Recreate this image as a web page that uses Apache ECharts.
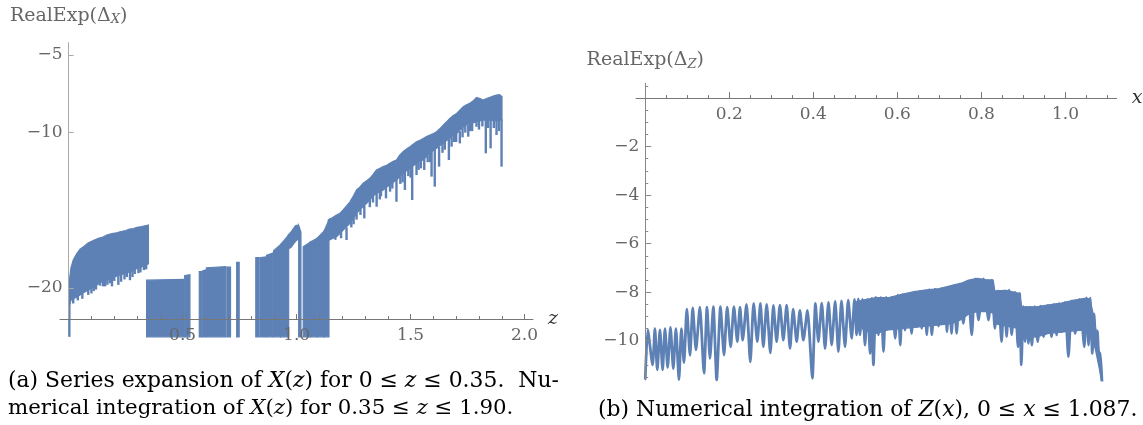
<!DOCTYPE html>
<html><head><meta charset="utf-8">
<script src="https://cdn.jsdelivr.net/npm/echarts@6/dist/echarts.min.js"></script>
<style>html,body{margin:0;padding:0;background:#fff}#c{width:1143px;height:425px}</style>
</head><body><div id="c"></div>
<script>
// ================= Panel (a): RealExp(Δ_X) against z =================
const aXTicks = [0.5, 1.0, 1.5, 2.0];
const aXMinor = [0.1,0.2,0.3,0.4,0.6,0.7,0.8,0.9,1.1,1.2,1.3,1.4,1.6,1.7,1.8,1.9];
const aYTicks = [-20, -10, -5];

// series expansion, 0 <= z <= 0.35 (band: upper and lower edge)
const aSerZ   = [0.004, 0.01, 0.02, 0.035, 0.05, 0.065, 0.085, 0.108, 0.13, 0.15, 0.167, 0.19, 0.21, 0.225, 0.25, 0.27, 0.284, 0.30, 0.32, 0.34, 0.35];
const aSerTop = [-19.4, -18.7, -18.2, -17.8, -17.5, -17.35, -17.1, -16.95, -16.8, -16.72, -16.6, -16.5, -16.45, -16.38, -16.3, -16.2, -16.18, -16.1, -16.05, -15.98, -15.95];
const aSerBot = [-21.1, -20.8, -20.7, -20.6, -20.45, -20.3, -20.15, -19.95, -19.75, -19.55, -19.5, -19.35, -19.25, -19.17, -19.05, -18.95, -18.85, -18.75, -18.65, -18.5, -18.45];

// numerical integration: stretches that oscillate below the plot range  [zStart, zEnd, topStart, topEnd]
const aBlocks = [
  [0.342, 0.506, -19.5, -19.45], [0.509, 0.532, -19.2, -19.15],
  [0.573, 0.584, -18.95, -18.95], [0.588, 0.600, -18.9, -18.85],
  [0.604, 0.689, -18.7, -18.63], [0.694, 0.710, -18.65, -18.65],
  [0.737, 0.748, -18.35, -18.35],
  [0.821, 0.836, -18.05, -18.05], [0.842, 0.864, -18.05, -18.0],
  [0.868, 0.895, -17.9, -17.75], [0.899, 0.930, -17.6, -17.2], [0.930, 0.965, -17.2, -16.6],
  [1.009, 1.019, -16.0, -16.4],
  [1.029, 1.060, -17.35, -17.05], [1.060, 1.090, -17.05, -16.8],
  [1.090, 1.120, -16.8, -16.35], [1.120, 1.142, -16.35, -15.62]
];
// floating hump near z = 1
const aHumpZ   = [0.962, 0.975, 0.985, 0.995, 1.003, 1.009, 1.013];
const aHumpTop = [-16.62, -16.4, -16.2, -16.0, -15.95, -16.0, -16.3];
const aHumpBot = [-17.5, -17.4, -17.2, -17.0, -16.9, -16.85, -16.8];
// rising band 1.14 <= z <= 1.90
const aRiseZ   = [1.139, 1.16, 1.175, 1.19, 1.204, 1.22, 1.234, 1.25, 1.263, 1.278, 1.292, 1.307, 1.321, 1.335, 1.35, 1.365, 1.38, 1.395, 1.409, 1.424, 1.438, 1.452, 1.467, 1.482, 1.497, 1.511, 1.526, 1.54, 1.555, 1.57, 1.585, 1.6, 1.614, 1.628, 1.643, 1.658, 1.672, 1.687, 1.702, 1.716, 1.731, 1.745, 1.76, 1.775, 1.789, 1.804, 1.819, 1.833, 1.848, 1.862, 1.877, 1.89, 1.901];
const aRiseTop = [-15.62, -15.45, -15.3, -15.2, -14.98, -14.7, -14.45, -14.05, -13.69, -13.5, -13.26, -13.1, -12.94, -12.7, -12.4, -12.3, -12.19, -12.1, -11.97, -11.85, -11.76, -11.45, -11.22, -11.05, -10.9, -10.75, -10.58, -10.5, -10.37, -10.25, -10.15, -10.05, -9.94, -9.75, -9.51, -9.3, -9.08, -8.9, -8.76, -8.55, -8.33, -8.2, -8.11, -7.95, -7.73, -7.8, -7.9, -7.8, -7.73, -7.65, -7.58, -7.55, -7.68];
const aRiseBot = [-16.95, -16.8, -16.7, -16.5, -16.27, -16.05, -15.84, -15.5, -15.2, -14.95, -14.77, -14.55, -14.34, -14.1, -13.9, -13.8, -13.69, -13.5, -13.37, -13.2, -13.05, -12.85, -12.62, -12.45, -12.3, -12.15, -11.97, -11.85, -11.76, -11.55, -11.33, -11.15, -11.0, -10.85, -10.69, -10.5, -10.37, -10.2, -10.05, -9.85, -9.62, -9.5, -9.4, -9.35, -9.3, -9.25, -9.19, -9.2, -9.2, -9.22, -9.25, -9.2, -9.2];
// downward spikes [z, from, to]
const aSpikes = [
  [0.003, -19.5, -23.15], [0.02, -20.6, -21.0], [0.04, -20.4, -20.8], [0.06, -20.3, -20.7], [0.086, -20.0, -20.45],
  [0.1, -19.9, -20.35], [0.11, -19.8, -20.2], [0.12, -19.7, -20.1], [0.137, -19.6, -19.85], [0.15, -19.5, -19.9],
  [0.16, -19.4, -19.9], [0.17, -19.45, -19.8], [0.181, -19.35, -19.7], [0.19, -19.3, -19.9], [0.2, -19.2, -19.55],
  [0.218, -19.1, -19.8], [0.23, -19.15, -19.6], [0.245, -19.0, -19.45], [0.255, -19.0, -19.3], [0.269, -18.9, -19.5],
  [0.28, -18.85, -19.3], [0.29, -18.8, -19.1], [0.306, -18.7, -19.05], [0.315, -18.65, -19.0], [0.33, -18.55, -18.85], [0.34, -18.5, -18.8],
  [1.17, -16.4, -16.9], [1.195, -16.3, -16.8], [1.219, -16.1, -16.91], [1.24, -15.6, -16.1], [1.25, -15.3, -15.9], [1.263, -15.1, -15.6],
  [1.28, -14.9, -15.3], [1.297, -14.7, -15.52], [1.321, -14.3, -14.8], [1.335, -14.0, -14.5], [1.351, -13.8, -14.77],
  [1.365, -13.7, -14.3], [1.37, -13.7, -14.1], [1.392, -13.5, -14.23], [1.41, -13.3, -13.8], [1.42, -13.2, -13.6],
  [1.438, -13.0, -14.45], [1.455, -12.8, -13.3], [1.465, -12.6, -13.2], [1.475, -12.5, -13.69],
  [1.49, -12.3, -12.8], [1.5, -12.2, -12.9], [1.507, -12.2, -14.34], [1.526, -11.9, -12.73], [1.535, -11.9, -12.4],
  [1.545, -11.8, -12.3], [1.56, -11.7, -12.4], [1.575, -11.5, -11.9], [1.585, -11.3, -11.9], [1.592, -11.2, -12.83],
  [1.606, -11.0, -13.48], [1.625, -10.9, -12.19], [1.64, -10.6, -11.3], [1.65, -10.6, -11.1], [1.668, -10.4, -11.76],
  [1.68, -10.3, -10.9], [1.69, -10.1, -10.6], [1.70, -10.0, -10.6], [1.716, -9.9, -10.69], [1.728, -9.6, -10.3],
  [1.74, -9.55, -10.0], [1.753, -9.5, -10.26], [1.76, -9.4, -9.9], [1.77, -9.3, -9.9], [1.789, -9.25, -9.62],
  [1.80, -9.2, -9.8], [1.815, -9.2, -9.6], [1.830, -9.15, -11.33], [1.84, -9.15, -9.7], [1.851, -9.15, -11.01],
  [1.865, -9.2, -9.7], [1.877, -9.2, -10.15], [1.888, -9.2, -9.9], [1.899, -9.15, -12.19]
];
const aFloor = -23.15;   // bottom of the plotted range

// ================= Panel (b): RealExp(Δ_Z) against x =================
const bXTicks = [0.2, 0.4, 0.6, 0.8, 1.0];
const bXMinor = [0.05,0.1,0.15,0.25,0.3,0.35,0.45,0.5,0.55,0.65,0.7,0.75,0.85,0.9,0.95,1.05,1.1];
const bYTicks = [-10, -8, -6, -4, -2];
const bYMinor = [-11.5,-11,-10.5,-9.5,-9,-8.5,-7.5,-7,-6.5,-5.5,-5,-4.5,-3.5,-3,-2.5,-1.5,-1,-0.5,0.5];

// oscillating curve: arch tops and cusps
const bCurve = [
  [0.0,-11.6],[0.006,-9.55],[0.0175,-11.0],[0.023,-9.5],[0.0286,-11.2],[0.035,-9.55],[0.0413,-11.2],[0.047,-9.5],
  [0.0533,-11.1],[0.06,-9.45],[0.0667,-11.15],[0.073,-9.5],[0.0802,-11.6],[0.086,-9.5],[0.0921,-10.9],
  [0.099,-8.7],[0.1065,-10.6],[0.113,-8.65],[0.1207,-10.38],[0.13,-8.62],[0.1398,-11.34],[0.147,-8.62],[0.154,-10.73],
  [0.162,-8.6],[0.170,-11.62],[0.179,-8.6],[0.1874,-10.59],[0.195,-8.62],[0.2033,-10.25],[0.211,-8.6],[0.2191,-10.04],
  [0.2255,-8.62],[0.2319,-9.98],[0.241,-8.5],[0.25,-10.87],[0.258,-8.46],[0.2667,-10.04],[0.274,-8.46],[0.281,-10.25],
  [0.289,-8.5],[0.2977,-10.5],[0.305,-8.55],[0.3127,-10.04],[0.3205,-8.53],[0.3286,-9.98],[0.3365,-8.53],[0.3445,-10.32],
  [0.352,-8.7],[0.3604,-10.04],[0.368,-8.75],[0.3763,-9.98],[0.386,-8.75],[0.3977,-11.55],[0.405,-8.46],[0.412,-10.04],
  [0.42,-8.45],[0.4279,-10.32],[0.436,-8.42],[0.4437,-10.18],[0.452,-8.38],[0.4596,-10.45],[0.467,-8.36],[0.4754,-10.25],
  [0.483,-8.33],[0.4913,-9.9],[0.498,-8.3],
  [0.503,-9.76],[0.507,-8.28],[0.511,-9.76],[0.517,-8.3],[0.523,-10.18],[0.529,-8.3],[0.535,-10.52],[0.539,-8.26],
  [0.543,-11.0],[0.549,-8.22],[0.555,-9.76],[0.561,-8.22],[0.567,-10.45],[0.573,-8.22],[0.579,-9.49],[0.587,-8.2],
  [0.595,-9.9],[0.601,-8.12],[0.607,-10.18],[0.612,-8.1],[0.618,-9.56],[0.626,-8.07],[0.634,-9.70],[0.640,-8.0],
  [0.646,-9.42],[0.652,-7.98],[0.658,-9.49],[0.664,-7.95],[0.670,-9.76],[0.676,-7.9],[0.682,-9.76],[0.690,-7.88],
  [0.698,-9.4],[0.704,-7.85],[0.710,-9.29],[0.714,-7.83],[0.718,-9.63],[0.723,-7.8],[0.729,-9.70],[0.735,-7.72],
  [0.741,-9.70],[0.749,-7.66],[0.757,-9.29],[0.767,-7.55],[0.777,-9.76],[0.785,-7.45],[0.793,-9.15],[0.805,-7.45],
  [0.817,-9.15],[0.825,-7.5],[0.832,-9.49],[0.840,-7.95],[0.848,-10.04],[0.854,-7.95],[0.860,-9.83],[0.866,-7.92],
  [0.872,-9.76],[0.880,-8.0],[0.887,-10.25],[0.891,-8.05],[0.895,-11.0],[0.90,-8.6],[0.904,-10.04],[0.908,-8.62],
  [0.912,-10.11],[0.916,-8.62],[0.920,-10.18],[0.927,-8.6],[0.934,-10.04],[0.941,-8.58],[0.948,-9.83],[0.958,-8.54],
  [0.967,-9.83],[0.973,-8.5],[0.979,-9.76],[0.985,-8.47],[0.991,-9.63],[0.999,-8.42],[1.007,-10.66],[1.015,-8.36],
  [1.023,-9.70],[1.034,-8.3],[1.045,-10.25],[1.05,-8.24],[1.055,-10.18],[1.059,-8.25],[1.064,-10.52],[1.068,-8.9],
  [1.073,-10.3],[1.076,-9.6],[1.080,-10.9],[1.083,-10.5],[1.087,-11.7]
];
// dense part: solid band (upper and lower edge)
const bBandX   = [0.502,0.52,0.55,0.58,0.61,0.64,0.67,0.70,0.73,0.75,0.77,0.79,0.81,0.828,0.832,0.86,0.891,0.896,0.93,0.96,0.99,1.02,1.05,1.058,1.065,1.073,1.08,1.086];
const bBandTop = [-8.4,-8.32,-8.22,-8.22,-8.09,-7.98,-7.9,-7.85,-7.72,-7.64,-7.5,-7.43,-7.48,-7.5,-7.95,-7.92,-8.05,-8.6,-8.6,-8.52,-8.45,-8.33,-8.24,-8.28,-8.8,-9.6,-10.4,-11.4];
const bBandBot = [-9.0,-9.6,-9.7,-9.55,-9.5,-9.45,-9.4,-9.35,-9.3,-9.15,-8.9,-8.8,-8.8,-8.85,-9.3,-9.4,-9.5,-9.8,-9.85,-9.7,-9.65,-9.6,-9.55,-9.6,-9.9,-10.5,-11.1,-11.7];

// ================= drawing =================
const BLUE = '#5E81B5';
const FONT = 'DejaVu Serif';
const GREY = '#666666';

function bandPoly(xs, tops, bots) {
  const pts = xs.map((x, i) => [x, tops[i]]);
  for (let i = xs.length - 1; i >= 0; i--) pts.push([xs[i], bots[i]]);
  return pts;
}
const aPolys = [bandPoly(aSerZ, aSerTop, aSerBot)]
  .concat(aBlocks.map(b => [[b[0], b[2]], [b[1], b[3]], [b[1], aFloor], [b[0], aFloor]]))
  .concat([bandPoly(aHumpZ, aHumpTop, aHumpBot), bandPoly(aRiseZ, aRiseTop, aRiseBot)]);
const bPolys = [bandPoly(bBandX, bBandTop, bBandBot)];

function polySeries(polys, xi, yi, clip) {
  return {
    type: 'custom', xAxisIndex: xi, yAxisIndex: yi, clip: clip, silent: true, z: 2,
    data: polys.map((p, i) => [p[0][0], p[0][1], i]),
    encode: { x: 0, y: 1 },
    renderItem: function (params, api) {
      const poly = polys[api.value(2)];
      return { type: 'polygon', shape: { points: poly.map(p => api.coord(p)) },
               style: { fill: BLUE, stroke: BLUE, lineWidth: 1.2 } };
    }
  };
}
function spikeSeries(spikes, xi, yi) {
  return {
    type: 'custom', xAxisIndex: xi, yAxisIndex: yi, clip: false, silent: true, z: 2,
    data: spikes, encode: { x: 0, y: [1, 2] },
    renderItem: function (params, api) {
      const p1 = api.coord([api.value(0), api.value(1)]);
      const p2 = api.coord([api.value(0), api.value(2)]);
      return { type: 'line', shape: { x1: p1[0], y1: p1[1], x2: p2[0], y2: p2[1] },
               style: { stroke: BLUE, lineWidth: 2.4, lineCap: 'butt' } };
    }
  };
}
const minus = v => (v < 0 ? '\u2212' + Math.abs(v) : String(v));
const labelStyle = { color: GREY, fontFamily: FONT, fontSize: 17 };

// layout of the two plot frames (pixels) and their ranges
const W = 1143, H = 425;
const gridA = { left: 60, right: 610, top: 42.6, bottom: 106 };
const gridB = { left: 636, right: 26.3, top: 83.3, bottom: 45 };
const aXR = [-0.038, 2.037], aYR = [-22, -4.2];
const bXR = [-0.022, 1.122], bYR = [-11.62, 0.61];
// pixel shift that puts an axis through the origin of the other one
function zeroShift(range, size) { return (0 - range[0]) / (range[1] - range[0]) * size; }
const aYOffset = -zeroShift(aXR, W - gridA.left - gridA.right);
const bYOffset = -zeroShift(bXR, W - gridB.left - gridB.right);
const bXOffset = -(H - gridB.top - gridB.bottom - zeroShift(bYR, H - gridB.top - gridB.bottom));

function xAxisCfg(grid, range, ticks, len, labels, name, pos, offset) {
  return {
    type: 'value', gridIndex: grid, min: range[0], max: range[1], position: pos, offset: offset, z: 10,
    axisLine: { show: !!labels, onZero: false, lineStyle: { color: '#777', width: 1 } },
    axisTick: { show: true, inside: pos === 'bottom', length: len, customValues: ticks, lineStyle: { color: '#777', width: 1 } },
    axisLabel: labels ? Object.assign({ show: true, inside: pos === 'top', customValues: ticks, margin: 8,
                 formatter: v => Number(v).toFixed(1) }, labelStyle) : { show: false },
    splitLine: { show: false },
    name: name || '', nameLocation: 'end', nameGap: 15, nameMoveOverlap: false,
    nameTextStyle: { fontFamily: FONT, fontStyle: 'italic', fontSize: 19, color: '#333', verticalAlign: 'middle' }
  };
}
function yAxisCfg(grid, range, ticks, len, labels, name, offset, lineColor, gap) {
  return {
    type: 'value', gridIndex: grid, min: range[0], max: range[1], position: 'left', offset: offset, z: 10,
    axisLine: { show: !!labels, onZero: false, lineStyle: { color: lineColor, width: 1 } },
    axisTick: { show: true, inside: true, length: len, customValues: ticks, lineStyle: { color: lineColor, width: 1 } },
    axisLabel: labels ? Object.assign({ show: true, customValues: ticks, margin: 6, formatter: minus }, labelStyle) : { show: false },
    splitLine: { show: false },
    name: name || '', nameLocation: 'end', nameGap: gap || 15, nameMoveOverlap: false,
    nameTextStyle: {
      color: GREY, fontFamily: FONT, fontSize: 19,
      rich: { t: { color: GREY, fontFamily: FONT, fontSize: 19 },
              s: { color: GREY, fontFamily: FONT, fontSize: 13, fontStyle: 'italic', padding: [9, 0, 0, 0] } }
    }
  };
}

function caption(x, y, size, text) {
  const rich = {
    r: { fontFamily: FONT, fontSize: size, fill: '#000', color: '#000' },
    i: { fontFamily: FONT, fontSize: size, fontStyle: 'italic', fill: '#000', color: '#000' }
  };
  return { type: 'text', x: x, y: y, silent: true,
           style: { text: text, rich: rich, fontFamily: FONT, fontSize: size, fill: '#000', verticalAlign: 'middle', align: 'left' } };
}

const option = {
  animation: false,
  backgroundColor: '#fff',
  textStyle: { fontFamily: FONT },
  grid: [
    Object.assign({ containLabel: false, outerBoundsMode: 'none' }, gridA),
    Object.assign({ containLabel: false, outerBoundsMode: 'none' }, gridB)
  ],
  xAxis: [
    xAxisCfg(0, aXR, aXTicks, 5, true, 'z', 'bottom', 0),
    xAxisCfg(0, aXR, aXMinor, 3, false, '', 'bottom', 0),
    xAxisCfg(1, bXR, bXTicks, 6, true, 'x', 'top', bXOffset),
    xAxisCfg(1, bXR, bXMinor, 3, false, '', 'top', bXOffset)
  ],
  yAxis: [
    yAxisCfg(0, aYR, aYTicks, 5, true, '{t|RealExp(Δ}{s|X}{t|)}', aYOffset, '#aaa', 16),
    yAxisCfg(1, bYR, bYTicks, 6, true, '{t|RealExp(Δ}{s|Z}{t|)}', bYOffset, '#888', 12),
    yAxisCfg(1, bYR, bYMinor, 3, false, '', bYOffset, '#888')
  ],
  series: [
    polySeries(aPolys, 0, 0, false),
    spikeSeries(aSpikes, 0, 0),
    polySeries(bPolys, 2, 1, true),
    { type: 'line', xAxisIndex: 2, yAxisIndex: 1, data: bCurve, showSymbol: false, symbol: 'none',
      smooth: 0.2, clip: true, silent: true, z: 3,
      lineStyle: { color: BLUE, width: 2.8 } }
  ],
  graphic: [
    caption(8, 381, 21.9, '{r|(a) Series expansion of }{i|X}{r|(}{i|z}{r|) for 0 ≤ }{i|z}{r| ≤ 0.35.  Nu-}'),
    caption(8, 408, 21.3, '{r|merical integration of }{i|X}{r|(}{i|z}{r|) for 0.35 ≤ }{i|z}{r| ≤ 1.90.}'),
    caption(598, 410, 21.9, '{r|(b) Numerical integration of }{i|Z}{r|(}{i|x}{r|), 0 ≤ }{i|x}{r| ≤ 1.087.}')
  ]
};
const chart = echarts.init(document.getElementById('c'), null, { renderer: 'canvas' });
chart.setOption(option);
</script>
</body></html>
